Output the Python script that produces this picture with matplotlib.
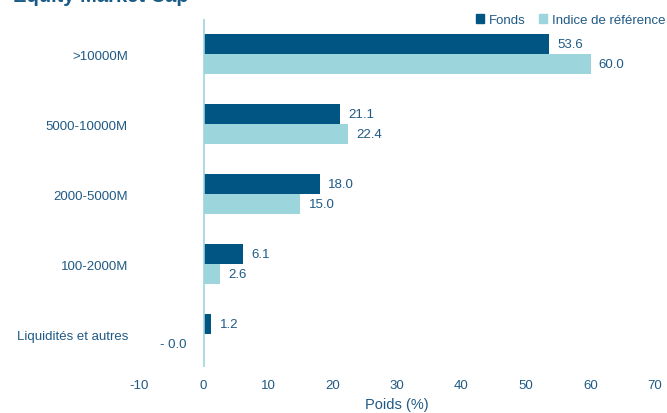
import numpy as np
import matplotlib
matplotlib.use("Agg")
import matplotlib.pyplot as plt
from matplotlib.patches import Patch

plt.rcParams['font.family'] = ['Liberation Sans', 'DejaVu Sans']
plt.rcParams['axes.unicode_minus'] = False

# data
categories = ['>10000M', '5000-10000M', '2000-5000M', '100-2000M', 'Liquidités et autres']
fonds = [53.6, 21.1, 18.0, 6.1, 1.2]
indice = [60.0, 22.4, 15.0, 2.6, -0.0]
x_ticks = [-10, 0, 10, 20, 30, 40, 50, 60, 70]

c_fonds = '#005583'
c_indice = '#9dd5dd'
c_text = '#1f5a85'

fig = plt.figure(figsize=(6.67, 4.14), dpi=100)
ax = fig.add_axes([139/667, 1 - 368/414, 516/667, 348/414])

y = np.arange(len(categories))
h = 0.285
ax.barh(y - h/2, fonds, height=h, color=c_fonds)
ax.barh(y + h/2, indice, height=h, color=c_indice)

def fmt(v):
    if np.signbit(v):
        return f'- {abs(v):.1f}'
    return f'{v:.1f}'

for vals, off in [(fonds, -h/2), (indice, h/2)]:
    for yi, v in zip(y, vals):
        if np.signbit(v):
            ax.annotate(fmt(v), (v, yi + off), xytext=(-12, 0), textcoords='offset points',
                        ha='right', va='center', fontsize=9.5, color=c_text)
        else:
            ax.annotate(fmt(v), (v, yi + off), xytext=(6, 0), textcoords='offset points',
                        ha='left', va='center', fontsize=9.5, color=c_text)

ax.axvline(0, color=c_indice, lw=1.2)

ax.set_xlim(-10, 70)
ax.set_ylim(4.47, -0.5)
ax.set_xticks(x_ticks)
ax.set_yticks(y)
ax.set_yticklabels(categories)
ax.tick_params(axis='both', length=0, labelsize=9.5, labelcolor=c_text)
ax.tick_params(axis='y', pad=8)
ax.tick_params(axis='x', pad=9)
for s in ax.spines.values():
    s.set_visible(False)
ax.set_xlabel('Poids (%)', fontsize=10.5, color=c_text, labelpad=4)

handles = [Patch(color=c_fonds, label='Fonds'), Patch(color=c_indice, label='Indice de référence')]
fig.legend(handles=handles, loc='center right', bbox_to_anchor=(1.0, 1 - 21/414), ncol=2,
           frameon=False, fontsize=9.5, handlelength=0.6, handleheight=0.6, handletextpad=0.4,
           columnspacing=1.0, labelcolor=c_text, borderaxespad=0.0, borderpad=0.1)

fig.text(13/667, 1 - 2/414, 'Equity Market Cap', fontsize=14.5, fontweight='bold',
         color='#1a5a86', ha='left', va='baseline')

fig.savefig('out.png', dpi=100)
